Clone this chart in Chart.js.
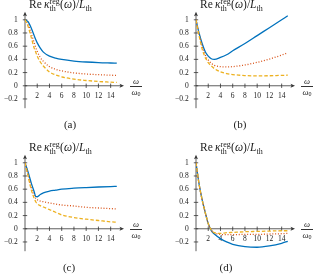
<!DOCTYPE html>
<html>
<head>
<meta charset="utf-8">
<script src="https://cdn.jsdelivr.net/npm/chart.js@4.4.0/dist/chart.umd.min.js"></script>
<style>
  html, body { margin: 0; padding: 0; background: #fff; }
  #fig { position: relative; width: 314px; height: 274px; overflow: hidden;
         font-family: "Liberation Serif", serif; color: #222; }
  .panel { position: absolute; width: 140px; height: 120px; }
  .ttl { position: absolute; font-size: 11.5px; line-height: 11.5px; white-space: nowrap; }
  .sc { display: inline-block; position: relative; height: 0; }
  .sc span { position: absolute; left: 0; font-size: 8px; line-height: 8px; }
  .frac { position: absolute; width: 12px; font-size: 8.5px; line-height: 8px; text-align: center; }
  .frac .bar { height: 0; border-top: 0.6px solid #333; margin: 1px 0; }
  .frac sub { font-size: 6px; line-height: 0; vertical-align: -1px; }
  .cap { position: absolute; width: 30px; font-size: 11px; line-height: 11px; text-align: center; }
</style>
</head>
<body>
<div id="fig">
  <canvas id="pa" class="panel" width="140" height="120" style="left:0;top:0"></canvas>
  <canvas id="pb" class="panel" width="140" height="120" style="left:171px;top:0"></canvas>
  <canvas id="pc" class="panel" width="140" height="120" style="left:0;top:143px"></canvas>
  <canvas id="pd" class="panel" width="140" height="120" style="left:171px;top:143px"></canvas>
</div>
<script>
// frequency grid (omega / omega_0)
const omega = [0, 0.5, 1, 1.5, 1.75, 2, 2.5, 3, 4, 5, 6, 8, 10, 12, 14, 15];

// (a)
const aSolid  = [1, 0.97, 0.88, 0.76, 0.70, 0.65, 0.57, 0.51, 0.45, 0.42, 0.40, 0.375, 0.36, 0.35, 0.345, 0.343];
const aDotted = [1, 0.93, 0.80, 0.65, 0.58, 0.52, 0.43, 0.37, 0.29, 0.25, 0.225, 0.195, 0.178, 0.168, 0.16, 0.157];
const aDashed = [1, 0.90, 0.74, 0.57, 0.51, 0.45, 0.36, 0.30, 0.21, 0.165, 0.135, 0.10, 0.08, 0.065, 0.055, 0.05];
// (b)
const bSolid  = [1, 0.80, 0.64, 0.52, 0.48, 0.45, 0.41, 0.40, 0.43, 0.47, 0.53, 0.64, 0.76, 0.88, 1.0, 1.06];
const bDotted = [1, 0.78, 0.60, 0.47, 0.42, 0.39, 0.34, 0.31, 0.29, 0.285, 0.29, 0.315, 0.355, 0.405, 0.465, 0.50];
const bDashed = [1, 0.76, 0.56, 0.43, 0.39, 0.35, 0.30, 0.26, 0.21, 0.185, 0.17, 0.155, 0.15, 0.152, 0.158, 0.16];
// (c)
const cSolid  = [1, 0.86, 0.70, 0.56, 0.49, 0.485, 0.52, 0.545, 0.57, 0.585, 0.60, 0.615, 0.625, 0.633, 0.64, 0.643];
const cDotted = [1, 0.82, 0.63, 0.50, 0.46, 0.44, 0.42, 0.41, 0.39, 0.375, 0.36, 0.345, 0.325, 0.315, 0.305, 0.30];
const cDashed = [1, 0.80, 0.60, 0.46, 0.41, 0.38, 0.35, 0.33, 0.29, 0.25, 0.21, 0.17, 0.145, 0.125, 0.105, 0.10];
// (d)
const dSolid  = [1, 0.68, 0.44, 0.25, 0.16, 0.08, -0.03, -0.08, -0.15, -0.20, -0.235, -0.27, -0.28, -0.26, -0.22, -0.19];
const dDotted = [1, 0.68, 0.44, 0.25, 0.16, 0.08, -0.02, -0.06, -0.085, -0.09, -0.09, -0.085, -0.085, -0.08, -0.075, -0.07];
const dDashed = [1, 0.68, 0.44, 0.25, 0.16, 0.08, -0.02, -0.06, -0.07, -0.06, -0.055, -0.045, -0.04, -0.035, -0.03, -0.03];

const xTicks = [2, 4, 6, 8, 10, 12, 14];
const xTickLabels = ['2', '4', '6', '8', '10', '12', '14'];
const yTicks = [-0.2, 0, 0.2, 0.4, 0.6, 0.8, 1];
const yTickLabels = ['\u22120.2', '0', '0.2', '0.4', '0.6', '0.8', '1'];

const blue = '#0072bd', red = '#d95319', orange = '#edb120';
const axisColor = '#333';
const tickFont = { family: '"Liberation Serif", serif', size: 7.5 };

// axis lines, crossing tick marks and arrow heads
const axisArrows = {
  id: 'axisArrows',
  beforeDatasetsDraw(chart) {
    const { ctx, chartArea: a, scales: { x, y } } = chart;
    const x0 = x.getPixelForValue(0), y0 = y.getPixelForValue(0);
    ctx.save();
    ctx.strokeStyle = axisColor;
    ctx.fillStyle = axisColor;
    ctx.lineWidth = 0.8;
    ctx.beginPath();
    ctx.moveTo(x0, a.bottom); ctx.lineTo(x0, a.top + 2);
    ctx.moveTo(x0, y0); ctx.lineTo(a.right - 2, y0);
    x.ticks.forEach(t => {
      const p = x.getPixelForValue(t.value);
      ctx.moveTo(p, y0 - 2.2); ctx.lineTo(p, y0 + 2.2);
    });
    y.ticks.forEach(t => {
      const p = y.getPixelForValue(t.value);
      ctx.moveTo(x0 - 2.2, p); ctx.lineTo(x0 + 2.2, p);
    });
    ctx.stroke();
    // up arrow
    ctx.beginPath();
    ctx.moveTo(x0, a.top);
    ctx.lineTo(x0 + 2, a.top + 4.5);
    ctx.lineTo(x0, a.top + 3.4);
    ctx.lineTo(x0 - 2, a.top + 4.5);
    ctx.closePath();
    ctx.fill();
    // right arrow
    ctx.beginPath();
    ctx.moveTo(a.right, y0);
    ctx.lineTo(a.right - 4.5, y0 - 2);
    ctx.lineTo(a.right - 3.4, y0);
    ctx.lineTo(a.right - 4.5, y0 + 2);
    ctx.closePath();
    ctx.fill();
    ctx.restore();
  }
};

function line(vals, color, dash, order) {
  return {
    data: omega.map((w, i) => ({ x: w, y: vals[i] })),
    borderColor: color,
    borderWidth: 1.3,
    borderDash: dash,
    fill: false,
    pointRadius: 0,
    cubicInterpolationMode: 'monotone',
    order: order
  };
}

function makePanel(id, solid, dotted, dashed) {
  return new Chart(document.getElementById(id), {
    type: 'line',
    data: {
      datasets: [
        line(dashed, orange, [3.5, 2], 1),
        line(dotted, red, [1, 1.8], 2),
        line(solid, blue, [], 3)
      ]
    },
    options: {
      responsive: false,
      animation: false,
      devicePixelRatio: 1,
      layout: { padding: { left: 0, top: 9, right: 16, bottom: 8.3 } },
      plugins: { legend: { display: false }, tooltip: { enabled: false } },
      scales: {
        x: {
          type: 'linear', min: 0, max: 16.18, position: { y: 0 },
          grid: { display: false, drawTicks: false }, border: { display: false },
          afterFit: s => { s.height = 0; },
          afterBuildTicks: s => { s.ticks = xTicks.map(v => ({ value: v })); },
          ticks: { autoSkip: false, maxRotation: 0, padding: 5.3, font: tickFont, color: '#222',
                   callback: (v, i) => xTickLabels[i] }
        },
        y: {
          type: 'linear', min: -0.34, max: 1.121, position: 'left',
          grid: { display: false, drawTicks: false }, border: { display: false },
          afterFit: s => { s.width = 25; },
          afterBuildTicks: s => { s.ticks = yTicks.map(v => ({ value: v })); },
          ticks: { autoSkip: false, padding: 7.3, font: tickFont, color: '#222',
                   callback: (v, i) => yTickLabels[i] }
        }
      }
    },
    plugins: [axisArrows]
  });
}

makePanel('pa', aSolid, aDotted, aDashed);
makePanel('pb', bSolid, bDotted, bDashed);
makePanel('pc', cSolid, cDotted, cDashed);
makePanel('pd', dSolid, dDotted, dDashed);

// text: axis titles and captions
const fig = document.getElementById('fig');
const panels = [[0, 0, '(a)', 70], [171, 0, '(b)', 240], [0, 143, '(c)', 69], [171, 143, '(d)', 226]];
panels.forEach(([L, T, cap, cx]) => {
  const t = document.createElement('div');
  t.className = 'ttl';
  t.style.left = (L + 29) + 'px';
  t.style.top = (T - 1) + 'px';
  t.innerHTML = 'Re&#8201;<i>\u03ba</i><span class="sc" style="width:10.5px"><span style="top:-10.5px">reg</span><span style="top:-3.5px">th</span></span>(<i>\u03c9</i>)/<i>L</i><span class="sc" style="width:6.5px"><span style="top:-3.5px">th</span></span>';
  fig.appendChild(t);

  const f = document.createElement('div');
  f.className = 'frac';
  f.style.left = (L + 130) + 'px';
  f.style.top = (T + 77) + 'px';
  f.innerHTML = '<div><i>\u03c9</i></div><div class="bar"></div><div><i>\u03c9</i><sub>0</sub></div>';
  fig.appendChild(f);

  const c = document.createElement('div');
  c.className = 'cap';
  c.style.left = (cx - 15) + 'px';
  c.style.top = (T + 119) + 'px';
  c.textContent = cap;
  fig.appendChild(c);
});
</script>
</body>
</html>
